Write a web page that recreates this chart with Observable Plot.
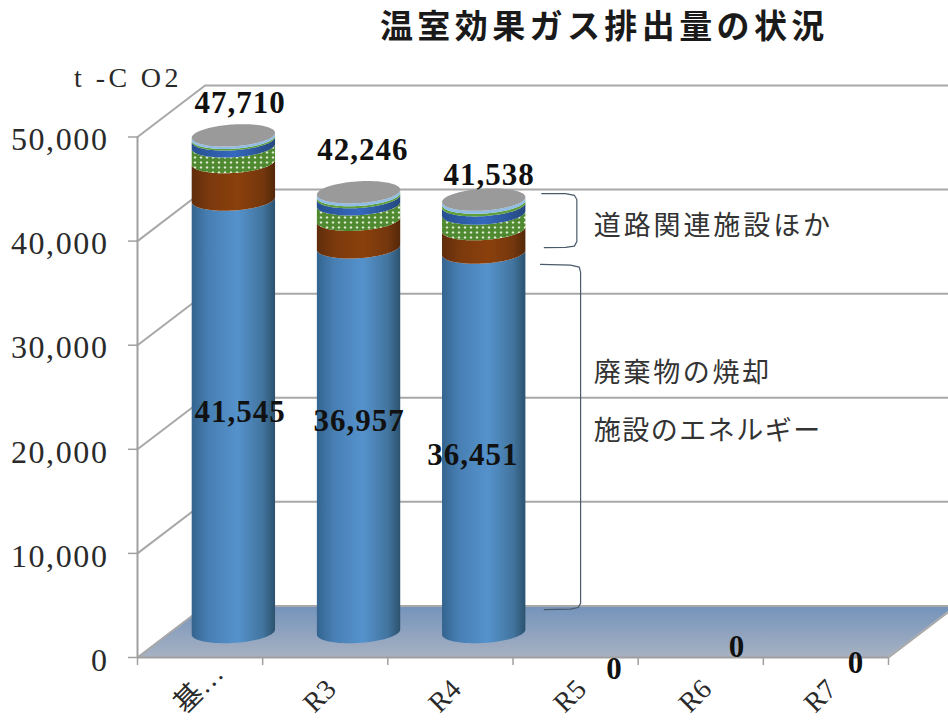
<!DOCTYPE html>
<html lang="ja">
<head>
<meta charset="utf-8">
<script src="https://cdn.jsdelivr.net/npm/d3@7"></script>
<script src="https://cdn.jsdelivr.net/npm/@observablehq/plot@0.6"></script>
<style>
html,body{margin:0;padding:0;background:#fff;overflow:hidden}
g[aria-label="y-axis tick label"] text{letter-spacing:1.6px}
.num text{letter-spacing:1px}
.unit text{letter-spacing:3.4px}
.title text{letter-spacing:4.4px}
.note0 text{letter-spacing:2.9px}
.note1 text{letter-spacing:2.7px}
.note2 text{letter-spacing:1.5px}
</style>
</head>
<body>
<div id="chart"></div>
<script>
// ---- data ----
const categories = ["基…", "R3", "R4", "R5", "R6", "R7"];
const totals     = [47710, 42246, 41538, 0, 0, 0];
const energy     = [41545, 36957, 36451];
const brown      = [3600, 2650, 2250];
const hatched    = [1510, 1480, 1500];
const darkBlue   = [670, 690, 800];
const thinGreen  = [150, 200, 250];
const lightBlue  = [235, 269, 287];
const yTicks     = [0, 10000, 20000, 30000, 40000, 50000];
const titleText  = "温室効果ガス排出量の状況";
const unitText   = "t -C O2";
const notes      = ["道路関連施設ほか", "廃棄物の焼却", "施設のエネルギー"];

// ---- layout in chart units (category widths, t-CO2) ----
const depthX = 0.54, depthY = 4950;          // wall depth
const rimX = 0.333, rimY = 1050, tilt = 240; // cylinder ellipse
const liftY = 2400;                          // cylinder base set back on floor
const centre = i => i + 0.5 + depthX / 2;
const totalNudge = [[.05, 5510], [.03, 6454], [.04, 4762], [.04, -1153], [.02, 960], [-.03, -576]];
const innerNudge = [[.05, -18010], [0, -14287], [-.09, -17051]];
const tickLabelNudge = [[.1, 1500], [0, 0], [0, 0], [0, 0], [0, 0], [0, 0]];

const ts = d3.range(0, 61).map(k => -Math.cos(Math.PI * k / 60));
const series = [
  {values: energy,    fill: "url(#gBlue)"},
  {values: brown,     fill: "url(#gBrown)"},
  {values: hatched,   fill: "url(#hatch)"},
  {values: darkBlue,  fill: "url(#gDark)"},
  {values: thinGreen, fill: "#5e9e3c"},
  {values: lightBlue, fill: "#8fbde6"}
];
const bandMarks = [];
series.forEach((s, j) => {
  const rows = [];
  energy.forEach((_, i) => {
    const low = d3.sum(series.slice(0, j), q => q.values[i]);
    const high = low + s.values[i];
    ts.forEach(t => {
      const arc = -rimY * Math.sqrt(1 - t * t) + tilt * t;
      rows.push({i, x: centre(i) + rimX * t, y1: liftY + low + arc, y2: liftY + high + arc});
    });
  });
  bandMarks.push(Plot.areaY(rows, {x: "x", y1: "y1", y2: "y2", z: "i", fill: s.fill}));
});
const capRows = [];
energy.forEach((_, i) => ts.forEach(t => {
  const r = rimY * Math.sqrt(1 - t * t), c = liftY + totals[i] + tilt * t;
  capRows.push({i, x: centre(i) + rimX * t, y1: c - r, y2: c + r});
}));

const floorRows = [
  {x: 0, y1: 0, y2: 0},
  {x: depthX, y1: 0, y2: depthY},
  {x: 6, y1: 0, y2: depthY},
  {x: 6 + depthX, y1: depthY, y2: depthY}
];
const wallRows = yTicks.flatMap(v => [
  {v, x: 0, y: v},
  {v, x: depthX, y: v + depthY},
  {v, x: 6 + depthX, y: v + depthY}
]);
const bracketA = [[3.23, 44570], [3.42, 44560], [3.49, 44400], [3.51, 44000], [3.51, 39950], [3.49, 39520], [3.42, 39400], [3.25, 39380]];
const bracketB = [[3.22, 37760], [3.46, 37700], [3.53, 37500], [3.54, 37000], [3.54, 5200], [3.52, 4800], [3.46, 4650], [3.25, 4600]];

const svgDefs = () => {
  const ns = "http://www.w3.org/2000/svg";
  const defs = document.createElementNS(ns, "defs");
  const grad = (id, stops, vertical) => `<linearGradient id="${id}" x1="0" y1="0" x2="${vertical ? 0 : 1}" y2="${vertical ? 1 : 0}">` +
    stops.map(([o, c]) => `<stop offset="${o}" stop-color="${c}"/>`).join("") + `</linearGradient>`;
  defs.innerHTML =
    grad("gBlue", [[0, "#34648f"], [.2, "#477fb3"], [.55, "#5592cc"], [.85, "#42759f"], [1, "#2c526f"]]) +
    grad("gBrown", [[0, "#5f2d0b"], [.2, "#7a390d"], [.55, "#8b400c"], [.85, "#75370d"], [1, "#532809"]]) +
    grad("gDark", [[0, "#27508f"], [.5, "#3568bf"], [1, "#25497f"]]) +
    grad("gFloor", [[0, "#7393bb"], [1, "#a7b1c2"]], true) +
    `<pattern id="hatch" width="6" height="5" patternUnits="userSpaceOnUse">
       <rect width="6" height="5" fill="#4f8a30"/>
       <path d="M3 .9 L4.5 2.5 L3 4.1 L1.5 2.5Z" fill="#dfead3"/>
     </pattern>`;
  return defs;
};

const font = '"Liberation Serif","Noto Sans CJK JP",serif';
const jp = '"Noto Sans CJK JP",sans-serif';

const plot = Plot.plot({
  width: 948, height: 720,
  marginLeft: 137, marginRight: 60, marginTop: 136.5, marginBottom: 63,
  style: {background: "#fff", overflow: "hidden"},
  x: {domain: [0, 6], axis: null},
  y: {domain: [0, 50000], axis: null},
  marks: [
    svgDefs,
    Plot.areaY(floorRows, {x: "x", y1: "y1", y2: "y2", fill: "url(#gFloor)"}),
    Plot.line(wallRows, {x: "x", y: "y", z: "v", stroke: "#a8a8a8", strokeWidth: 2}),
    Plot.line([[6, 0], [6 + depthX, depthY]], {stroke: "#a8a8a8", strokeWidth: 2}),
    Plot.ruleX([0], {y1: 0, y2: 50000, stroke: "#a0a0a0", strokeWidth: 2}),
    Plot.ruleY([0], {x1: 0, x2: 6, stroke: "#a0a0a0", strokeWidth: 2}),
    Plot.axisY({ticks: yTicks, tickSize: 9, fill: "none", label: null, stroke: "#a0a0a0", strokeWidth: 1.5}),
    Plot.axisX({ticks: d3.range(7), tickSize: 8, fill: "none", label: null, stroke: "#a0a0a0", strokeWidth: 1.5}),
    Plot.axisY({ticks: yTicks, tickSize: 0, tickPadding: 29, dy: 3, label: null, tickFormat: d3.format(","),
      fontSize: 32, fontFamily: font, fill: "#2a2a2a"}),
    Plot.text(categories, {x: (d, i) => i + 0.5 + tickLabelNudge[i][0], y: (d, i) => tickLabelNudge[i][1], text: d => d, rotate: -45, textAnchor: "end",
      dx: 6, dy: 27, fontSize: 28, fontFamily: font, fill: "#2a2a2a"}),
    ...bandMarks,
    Plot.areaY(capRows, {x: "x", y1: "y1", y2: "y2", z: "i", fill: "#9a9a9a"}),
    Plot.line(bracketA, {stroke: "#4a5a6a", strokeWidth: 1.2}),
    Plot.line(bracketB, {stroke: "#4a5a6a", strokeWidth: 1.2}),
    Plot.text(totals, {x: (d, i) => centre(i) + totalNudge[i][0], y: (d, i) => d + totalNudge[i][1], text: d3.format(","),
      className: "num", fontSize: 31, fontWeight: 700, fontFamily: font, fill: "#111"}),
    Plot.text(energy, {x: (d, i) => centre(i) + innerNudge[i][0], y: (d, i) => d + innerNudge[i][1], text: d3.format(","),
      className: "num", fontSize: 31, fontWeight: 700, fontFamily: font, fill: "#111"}),
    Plot.text([unitText], {x: [-0.076], y: [55700], text: d => d, className: "unit", fontSize: 28, fontFamily: font, fill: "#2a2a2a"}),
    Plot.text([titleText], {x: [3.73], y: [60500], text: d => d, className: "title", fontSize: 33, fontWeight: 700, fontFamily: jp, fill: "#1a1a1a"}),
    Plot.text([notes[0]], {x: [3.645], y: [41400], text: d => d, textAnchor: "start", className: "note0", fontSize: 27, fontFamily: jp, fill: "#333"}),
    Plot.text([notes[1]], {x: [3.645], y: [27300], text: d => d, textAnchor: "start", className: "note1", fontSize: 27, fontFamily: jp, fill: "#333"}),
    Plot.text([notes[2]], {x: [3.645], y: [21700], text: d => d, textAnchor: "start", className: "note2", fontSize: 27, fontFamily: jp, fill: "#333"})
  ]
});
document.getElementById("chart").appendChild(plot);
</script>
</body>
</html>
